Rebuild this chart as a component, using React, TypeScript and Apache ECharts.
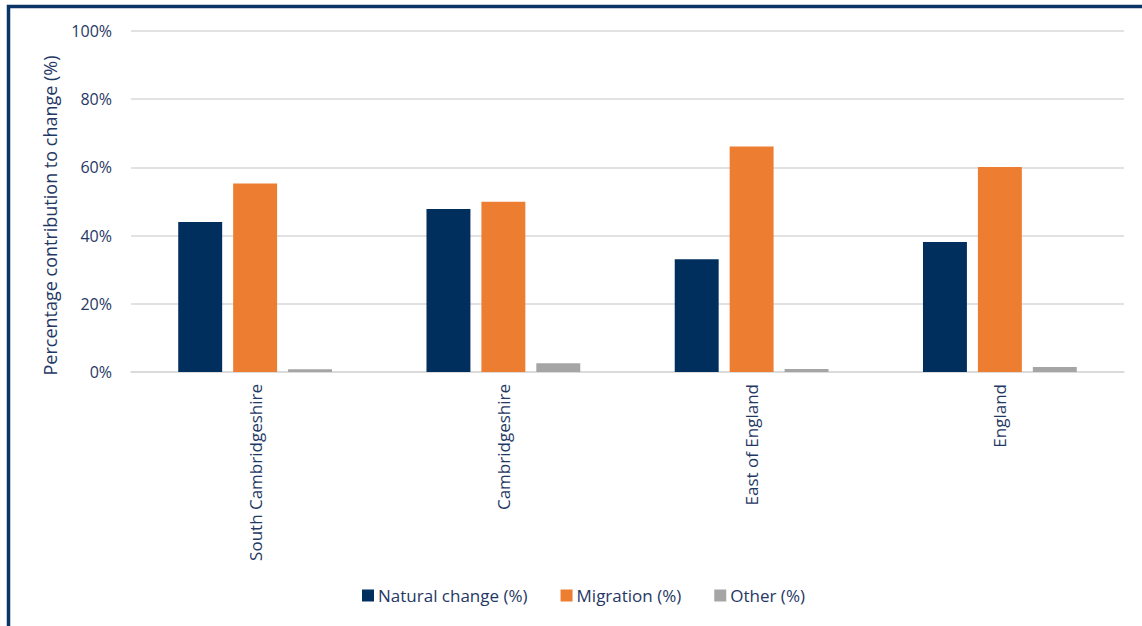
import React, { useEffect, useRef } from "react";
import * as echarts from "echarts";

const categories = ["South Cambridgeshire", "Cambridgeshire", "East of England", "England"];
const naturalChange = [44.0, 47.8, 33.1, 38.1];
const migration = [55.3, 49.9, 66.1, 60.1];
const other = [0.8, 2.6, 0.9, 1.5];
const yTicks = [0, 20, 40, 60, 80, 100];

const TEXT = "#1f3864";
const FONT = "'Open Sans', sans-serif";

export default function App() {
  const ref = useRef<HTMLDivElement>(null);

  useEffect(() => {
    if (!ref.current) return;
    const chart = echarts.init(ref.current, null, { renderer: "svg" });
    const bar = (name: string, data: number[], color: string) => ({
      name,
      type: "bar",
      data,
      barWidth: "17.7%",
      barGap: "25%",
      itemStyle: { color },
    });
    chart.setOption({
      animation: false,
      textStyle: { fontFamily: FONT },
      graphic: [
        {
          type: "rect",
          shape: { x: 8.5, y: 6.5, width: 1300, height: 800 },
          style: { fill: "none", stroke: "#0b3566", lineWidth: 3.5 },
          silent: true,
        },
      ],
      legend: {
        bottom: 17,
        left: 357,
        itemWidth: 12,
        itemHeight: 12,
        itemGap: 33,
        icon: "rect",
        textStyle: { color: TEXT, fontSize: 17, fontFamily: FONT, padding: [0, 0, 0, -1] },
        data: ["Natural change (%)", "Migration (%)", "Other (%)"],
      },
      grid: { left: 131, right: 18, top: 31, bottom: 254, containLabel: false },
      xAxis: {
        type: "category",
        data: categories,
        axisLine: { lineStyle: { color: "#d9d9d9", width: 1.5 } },
        axisTick: { show: false },
        axisLabel: {
          rotate: 90,
          color: TEXT,
          fontSize: 17,
          fontFamily: FONT,
          margin: 12,
        },
      },
      yAxis: {
        type: "value",
        min: 0,
        max: 100,
        interval: 20,
        name: "Percentage contribution to change (%)",
        nameLocation: "middle",
        nameGap: 72,
        nameTextStyle: { color: TEXT, fontSize: 18, fontFamily: FONT, padding: [0, 28, 0, 0] },
        axisLine: { show: false },
        axisTick: { show: false },
        splitLine: { lineStyle: { color: "#d9d9d9", width: 1.5 } },
        axisLabel: {
          color: TEXT,
          fontSize: 16,
          fontFamily: FONT,
          margin: 19,
          formatter: (v: number) => (yTicks.includes(v) ? `${v}%` : ""),
        },
      },
      series: [
        bar("Natural change (%)", naturalChange, "#002f5e"),
        bar("Migration (%)", migration, "#ed7d31"),
        bar("Other (%)", other, "#a5a5a5"),
      ],
    });
    return () => chart.dispose();
  }, []);

  return (
    <div
      ref={ref}
      style={{ position: "fixed", left: 0, top: 0, width: 1142, height: 626, background: "#fff" }}
    />
  );
}
